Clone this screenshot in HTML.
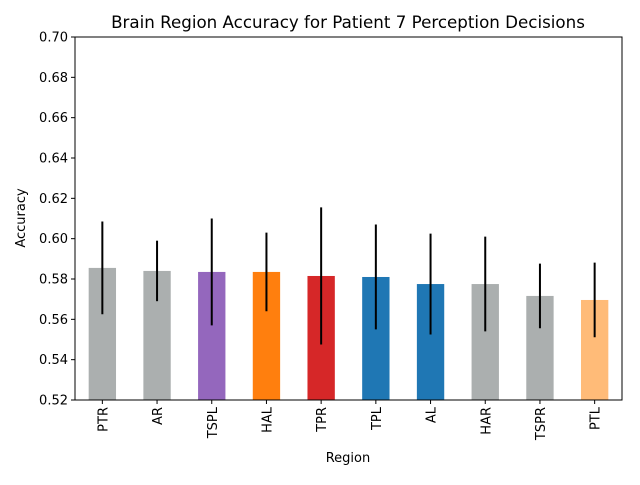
<!DOCTYPE html>
<html><head><meta charset="utf-8"><style>
body{margin:0;background:#fff;}
text{font-family:"DejaVu Sans","Liberation Sans",sans-serif;fill:#000;}
</style></head><body>
<svg id="chart" width="640" height="480">
<text x="348" y="28" font-size="16.7" text-anchor="middle">Brain Region Accuracy for Patient 7 Perception Decisions</text>
<text x="348" y="462" font-size="13" text-anchor="middle">Region</text>
<text x="25" y="218" font-size="13" text-anchor="middle" transform="rotate(-90 25 218)">Accuracy</text>
<g id="marks"></g>
<rect x="75" y="37" width="547" height="363" fill="none" stroke="#000" stroke-width="1"/>
</svg>
<script>
const categories=["PTR","AR","TSPL","HAL","TPR","TPL","AL","HAR","TSPR","PTL"];
const values=[0.5855,0.584,0.5835,0.5835,0.5815,0.581,0.5775,0.5775,0.5716,0.5696];
const errors=[0.023,0.015,0.0265,0.0195,0.034,0.026,0.025,0.0235,0.016,0.0185];
const colors=["#abafaf","#abafaf","#9467bd","#ff7f0e","#d62728","#1f77b4","#1f77b4","#abafaf","#abafaf","#ffbb78"];
const yTicks=[0.52,0.54,0.56,0.58,0.60,0.62,0.64,0.66,0.68,0.70];
const L=75,R=622,T=37,B=400,yMin=0.52,yMax=0.70;
const ns="http://www.w3.org/2000/svg";
const g=document.getElementById('marks');
const y=v=>B-(v-yMin)/(yMax-yMin)*(B-T);
const step=(R-L)/categories.length;
const x=i=>L+step*(i+0.5);
function mk(t,a){const e=document.createElementNS(ns,t);for(const k in a)e.setAttribute(k,a[k]);g.appendChild(e);return e;}
yTicks.forEach(v=>{
 const l=mk('line',{x1:L-4,x2:L,y1:y(v),y2:y(v),stroke:'#000'});
 
 
 const t=mk('text',{x:L-7,y:y(v)+4.5,'font-size':13,'text-anchor':'end'});
 t.textContent=v.toFixed(2);
 
 
});
const bw=step*0.5;
categories.forEach((c,i)=>{
 const cx=x(i);
 const b=mk('rect',{x:cx-bw/2,y:y(values[i]),width:bw,height:B-y(values[i]),fill:colors[i]});
 
 
 const e=mk('line',{x1:cx,x2:cx,y1:y(values[i]+errors[i]),y2:y(values[i]-errors[i]),stroke:'#000','stroke-width':2});
 
 
 const tk=mk('line',{x1:cx,x2:cx,y1:B,y2:B+4,stroke:'#000'});
 
 
 const t=mk('text',{x:cx+5,y:B+7,'font-size':13,'text-anchor':'end',transform:`rotate(-90 ${cx+5} ${B+7})`});
 t.textContent=c;
 
 
});
</script>
</body></html>
